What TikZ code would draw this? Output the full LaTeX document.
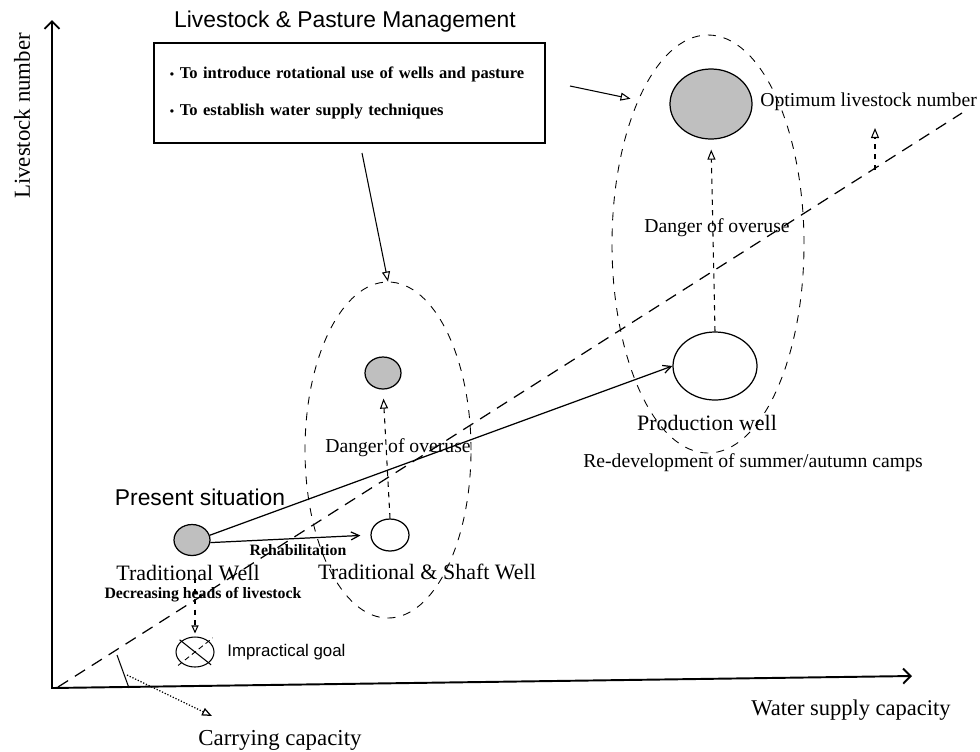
\documentclass[tikz,border=0pt]{standalone}
\usepackage{fontspec}
\setmainfont{Liberation Serif}
\setsansfont{Liberation Sans}
\usetikzlibrary{shapes.geometric,arrows.meta}
\begin{document}
\begin{tikzpicture}[x=0.2mm, y=-0.2mm,
  every node/.style={inner sep=0pt},
  well/.style={ellipse, draw, line width=0.7pt},
  greywell/.style={well, fill=gray!50},
  zone/.style={ellipse, draw, dash pattern=on 1.6mm off 1.6mm, line width=0.5pt},
  big/.style={font=\fontsize{12.5}{14}\selectfont},
  mid/.style={font=\fontsize{11.2}{13}\selectfont},
  small/.style={font=\bfseries\fontsize{9}{11}\selectfont},
  sans/.style={font=\sffamily\fontsize{13}{15}\selectfont},
  opentip/.style={-{Triangle[open,length=2mm,width=1.6mm]}},
  barb/.style={-{Straight Barb[length=1.6mm,width=1.6mm]}}]
\useasboundingbox (0,0) rectangle (980,751);
\coordinate (o) at (52,688);
\coordinate (ytop) at (52,20);
\coordinate (xend) at (912,676);
\draw[line width=1.1pt, {Straight Barb[length=1.5mm]}-{Straight Barb[length=1.5mm]}] (ytop) -- (o) -- (xend);
\coordinate (c0) at (58,687);
\coordinate (c1) at (962,113);
\draw[dash pattern=on 2.4mm off 1.6mm, line width=0.7pt] (c0) -- (c1);
\node[rotate=90, font=\fontsize{13}{15}\selectfont] (ylab) at (22,116) {Livestock number};
\node[font=\fontsize{12.8}{15}\selectfont] (xlab) at (851,710) {Water supply capacity};
\node[sans] (title) at (345,22) {Livestock \& Pasture Management};
\node[draw, line width=0.7pt, minimum width=78.2mm, minimum height=20mm, inner xsep=3.2mm, text width=71.8mm, align=left, font=\bfseries\fontsize{9.4}{11}\selectfont] (box) at (349.5,93)
  {{\scriptsize\textbullet} To introduce rotational use of wells and pasture\\[3.4mm] {\scriptsize\textbullet} To establish water supply techniques};
\node[zone, minimum width=33.2mm, minimum height=67.2mm] (zone1) at (388,450) {};
\node[zone, minimum width=38.4mm, minimum height=83.6mm] (zone2) at (708,244) {};
\node[greywell, minimum width=7.2mm, minimum height=6.2mm] (tw) at (192,540) {};
\node[well, minimum width=7.6mm, minimum height=6.4mm] (tsw) at (390,535) {};
\node[greywell, minimum width=7.2mm, minimum height=6.4mm] (tswup) at (383,373) {};
\node[well, minimum width=16.8mm, minimum height=13.6mm] (pw) at (715,366) {};
\node[greywell, minimum width=16.4mm, minimum height=14mm] (opt) at (711,104) {};
\node[well, line width=0.6pt, minimum width=7.6mm, minimum height=6mm] (ig) at (195,652) {};
\node[sans] (ps) at (200,497) {Present situation};
\node[big] (twl) at (188,573) {Traditional Well};
\node[small] (dec) at (203,595) {Decreasing heads of livestock};
\node[small] (reh) at (298,550) {Rehabilitation};
\node[big] (tswl) at (427,572) {Traditional \& Shaft Well};
\node[mid] (dang1) at (398,448) {Danger of overuse};
\node[mid] (dang2) at (717,228) {Danger of overuse};
\node[big] (pwl) at (707,423) {Production well};
\node[mid] (redev) at (753,463) {Re-development of summer/autumn camps};
\node[mid, anchor=west] (optl) at (760,102) {Optimum livestock number};
\node[sans, font=\sffamily\fontsize{9.6}{11}\selectfont, anchor=west] (igl) at (227,652) {Impractical goal};
\node[font=\fontsize{13}{15}\selectfont] (ccl) at (280,740) {Carrying capacity};
\coordinate (b1) at (362,153);
\coordinate (b2) at (570,86);
\draw[opentip, line width=0.6pt] (b1) -- (zone1.north);
\draw[opentip, line width=0.6pt, shorten >=1.5mm] (b2) -- (zone2.116);
\draw[barb, line width=0.7pt] (tw.15) -- (pw.west);
\draw[barb, line width=0.7pt, shorten >=2mm] (tw.-8) -- (tsw.west);
\draw[dashed, line width=0.6pt, opentip, shorten >=1.8mm] (tsw.north) -- (tswup.south);
\draw[dashed, line width=0.6pt, opentip, shorten >=2mm] (pw.north) -- (opt.south);
\coordinate (d1) at (195,578);
\draw[dashed, line width=0.6pt, -{Triangle[open,length=1.6mm,width=1.4mm]}, shorten >=0.6mm] (d1) -- (ig.north);
\draw[line width=0.6pt, shorten <=-0.4mm, shorten >=-0.6mm] (ig.north west) -- (ig.south east);
\draw[densely dashed, line width=0.5pt, shorten <=-0.8mm, shorten >=-1mm] (ig.south west) -- (ig.north east);
\coordinate (k1) at (117,655);
\coordinate (k2) at (129,688);
\coordinate (k3) at (127,675);
\coordinate (k4) at (212,716);
\draw[line width=0.6pt] (k1) -- (k2);
\draw[densely dotted, line width=0.7pt, opentip] (k3) -- (k4);
\coordinate (a1) at (875,170);
\coordinate (a2) at (875,128);
\draw[dashed, line width=0.6pt, opentip] (a1) -- (a2);
\end{tikzpicture}
\end{document}
